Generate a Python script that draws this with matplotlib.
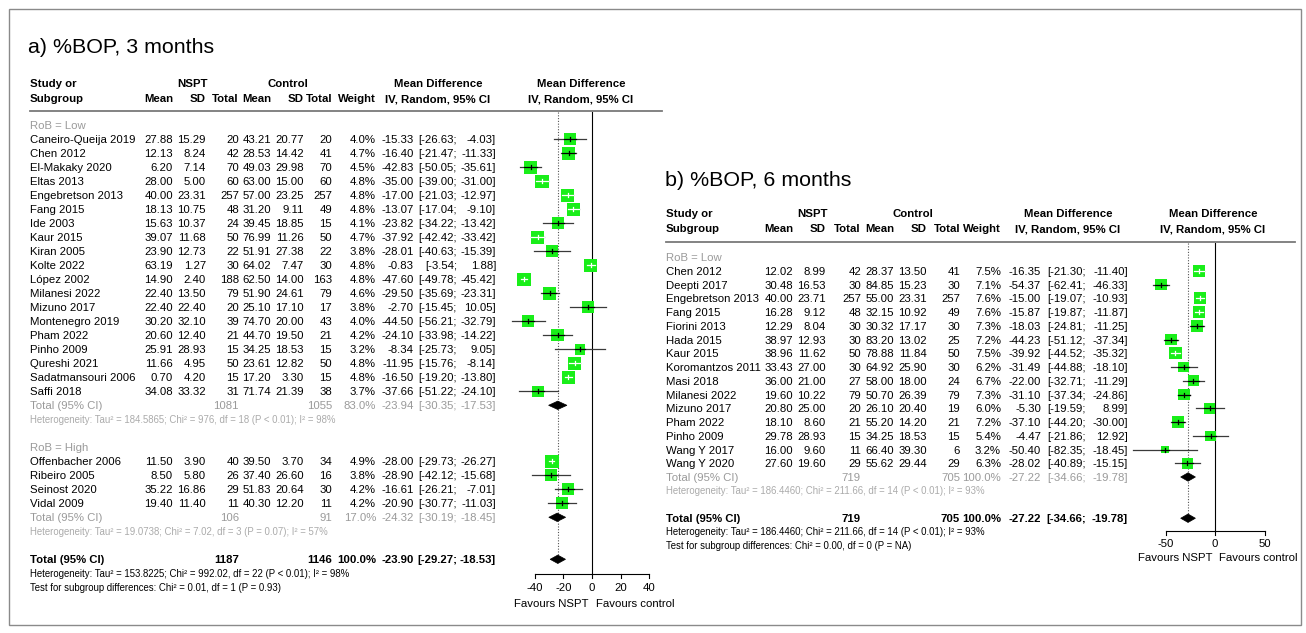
import matplotlib
matplotlib.use("Agg")
import math
import matplotlib.pyplot as plt
from matplotlib import transforms
from matplotlib.patches import Rectangle, Polygon
from matplotlib.lines import Line2D

plt.rcParams['font.family'] = ['Liberation Sans', 'DejaVu Sans']

# ===================== DATA: panel a (%BOP, 3 months) =====================
a_low_study = ["Caneiro-Queija 2019", "Chen 2012", "El-Makaky 2020", "Eltas 2013",
               "Engebretson 2013", "Fang 2015", "Ide 2003", "Kaur 2015", "Kiran 2005",
               "Kolte 2022", "López 2002", "Milanesi 2022", "Mizuno 2017",
               "Montenegro 2019", "Pham 2022", "Pinho 2009", "Qureshi 2021",
               "Sadatmansouri 2006", "Saffi 2018"]
a_low_mean_e = [27.88, 12.13, 6.20, 28.00, 40.00, 18.13, 15.63, 39.07, 23.90, 63.19,
                14.90, 22.40, 22.40, 30.20, 20.60, 25.91, 11.66, 0.70, 34.08]
a_low_sd_e = [15.29, 8.24, 7.14, 5.00, 23.31, 10.75, 10.37, 11.68, 12.73, 1.27,
              2.40, 13.50, 22.40, 32.10, 12.40, 28.93, 4.95, 4.20, 33.32]
a_low_n_e = [20, 42, 70, 60, 257, 48, 24, 50, 22, 30, 188, 79, 20, 39, 21, 15, 50, 15, 31]
a_low_mean_c = [43.21, 28.53, 49.03, 63.00, 57.00, 31.20, 39.45, 76.99, 51.91, 64.02,
                62.50, 51.90, 25.10, 74.70, 44.70, 34.25, 23.61, 17.20, 71.74]
a_low_sd_c = [20.77, 14.42, 29.98, 15.00, 23.25, 9.11, 18.85, 11.26, 27.38, 7.47,
              14.00, 24.61, 17.10, 20.00, 19.50, 18.53, 12.82, 3.30, 21.39]
a_low_n_c = [20, 41, 70, 60, 257, 49, 15, 50, 22, 30, 163, 79, 17, 43, 21, 15, 50, 15, 38]
a_low_weight = [4.0, 4.7, 4.5, 4.8, 4.8, 4.8, 4.1, 4.7, 3.8, 4.8, 4.8, 4.6, 3.8, 4.0,
                4.2, 3.2, 4.8, 4.8, 3.7]
a_low_md = [-15.33, -16.40, -42.83, -35.00, -17.00, -13.07, -23.82, -37.92, -28.01, -0.83,
            -47.60, -29.50, -2.70, -44.50, -24.10, -8.34, -11.95, -16.50, -37.66]
a_low_lo = [-26.63, -21.47, -50.05, -39.00, -21.03, -17.04, -34.22, -42.42, -40.63, -3.54,
            -49.78, -35.69, -15.45, -56.21, -33.98, -25.73, -15.76, -19.20, -51.22]
a_low_hi = [-4.03, -11.33, -35.61, -31.00, -12.97, -9.10, -13.42, -33.42, -15.39, 1.88,
            -45.42, -23.31, 10.05, -32.79, -14.22, 9.05, -8.14, -13.80, -24.10]
a_low_total_n = [1081, 1055]
a_low_total_w = 83.0
a_low_total_md = [-23.94, -30.35, -17.53]
a_low_het = "Heterogeneity: Tau² = 184.5865; Chi² = 976, df = 18 (P < 0.01); I² = 98%"

a_high_study = ["Offenbacher 2006", "Ribeiro 2005", "Seinost 2020", "Vidal 2009"]
a_high_mean_e = [11.50, 8.50, 35.22, 19.40]
a_high_sd_e = [3.90, 5.80, 16.86, 11.40]
a_high_n_e = [40, 26, 29, 11]
a_high_mean_c = [39.50, 37.40, 51.83, 40.30]
a_high_sd_c = [3.70, 26.60, 20.64, 12.20]
a_high_n_c = [34, 16, 30, 11]
a_high_weight = [4.9, 3.8, 4.2, 4.2]
a_high_md = [-28.00, -28.90, -16.61, -20.90]
a_high_lo = [-29.73, -42.12, -26.21, -30.77]
a_high_hi = [-26.27, -15.68, -7.01, -11.03]
a_high_total_n = [106, 91]
a_high_total_w = 17.0
a_high_total_md = [-24.32, -30.19, -18.45]
a_high_het = "Heterogeneity: Tau² = 19.0738; Chi² = 7.02, df = 3 (P = 0.07); I² = 57%"

a_all_total_n = [1187, 1146]
a_all_total_w = 100.0
a_all_total_md = [-23.90, -29.27, -18.53]
a_all_het = "Heterogeneity: Tau² = 153.8225; Chi² = 992.02, df = 22 (P < 0.01); I² = 98%"
a_test = "Test for subgroup differences: Chi² = 0.01, df = 1 (P = 0.93)"
a_ticks = [-40, -20, 0, 20, 40]

# ===================== DATA: panel b (%BOP, 6 months) =====================
b_low_study = ["Chen 2012", "Deepti 2017", "Engebretson 2013", "Fang 2015", "Fiorini 2013",
               "Hada 2015", "Kaur 2015", "Koromantzos 2011", "Masi 2018", "Milanesi 2022",
               "Mizuno 2017", "Pham 2022", "Pinho 2009", "Wang Y 2017", "Wang Y 2020"]
b_low_mean_e = [12.02, 30.48, 40.00, 16.28, 12.29, 38.97, 38.96, 33.43, 36.00, 19.60,
                20.80, 18.10, 29.78, 16.00, 27.60]
b_low_sd_e = [8.99, 16.53, 23.71, 9.12, 8.04, 12.93, 11.62, 27.00, 21.00, 10.22,
              25.00, 8.60, 28.93, 9.60, 19.60]
b_low_n_e = [42, 30, 257, 48, 30, 30, 50, 30, 27, 79, 20, 21, 15, 11, 29]
b_low_mean_c = [28.37, 84.85, 55.00, 32.15, 30.32, 83.20, 78.88, 64.92, 58.00, 50.70,
                26.10, 55.20, 34.25, 66.40, 55.62]
b_low_sd_c = [13.50, 15.23, 23.31, 10.92, 17.17, 13.02, 11.84, 25.90, 18.00, 26.39,
              20.40, 14.20, 18.53, 39.30, 29.44]
b_low_n_c = [41, 30, 257, 49, 30, 25, 50, 30, 24, 79, 19, 21, 15, 6, 29]
b_low_weight = [7.5, 7.1, 7.6, 7.6, 7.3, 7.2, 7.5, 6.2, 6.7, 7.3, 6.0, 7.2, 5.4, 3.2, 6.3]
b_low_md = [-16.35, -54.37, -15.00, -15.87, -18.03, -44.23, -39.92, -31.49, -22.00, -31.10,
            -5.30, -37.10, -4.47, -50.40, -28.02]
b_low_lo = [-21.30, -62.41, -19.07, -19.87, -24.81, -51.12, -44.52, -44.88, -32.71, -37.34,
            -19.59, -44.20, -21.86, -82.35, -40.89]
b_low_hi = [-11.40, -46.33, -10.93, -11.87, -11.25, -37.34, -35.32, -18.10, -11.29, -24.86,
            8.99, -30.00, 12.92, -18.45, -15.15]
b_low_total_n = [719, 705]
b_low_total_w = 100.0
b_low_total_md = [-27.22, -34.66, -19.78]
b_low_het = "Heterogeneity: Tau² = 186.4460; Chi² = 211.66, df = 14 (P < 0.01); I² = 93%"
b_all_total_n = [719, 705]
b_all_total_w = 100.0
b_all_total_md = [-27.22, -34.66, -19.78]
b_all_het = "Heterogeneity: Tau² = 186.4460; Chi² = 211.66, df = 14 (P < 0.01); I² = 93%"
b_test = "Test for subgroup differences: Chi² = 0.00, df = 0 (P = NA)"
b_ticks = [-50, 0, 50]

# ===================== LAYOUT =====================
W, H = 1306, 633
fig = plt.figure(figsize=(W / 100, H / 100), dpi=100)
PX = transforms.Affine2D().scale(1.0 / W, -1.0 / H).translate(0, 1) + fig.transFigure

FS = 8.2
FS_HET = 6.9
GREY = '#9a9a9a'
GREY_HET = '#ababab'
GREEN = '#19ee19'


def txt(x, y, s, ha='left', fs=FS, **kw):
    fig.text(x, y + fs * 0.49, s, transform=PX, ha=ha, va='baseline', fontsize=fs, **kw)


def hline(x0, x1, y, **kw):
    fig.add_artist(Line2D([x0, x1], [y, y], transform=PX, **kw))


LA = dict(title="a) %BOP, 3 months", title_x=28, title_y=45,
          name_x=30, cols=[173, 206, 239, 271, 304, 332, 376], md_r=[414, 457, 496],
          nspt_c=192, ctrl_c=288, mdh_c=438, plot_c=581,
          hy1=83, hy2=98, rule_y=111, rule_x1=662,
          y0=125.3, pitch=14.0,
          x0=592, ppu=1.43, ax_l=500, ax_r=690,
          axis_y=574, tick_y=587, fav_y=603, fav_l=-3, fav_r=4, sq_k=6.0, dia_h=4.2)

LB = dict(title="b) %BOP, 6 months", title_x=665, title_y=178,
          name_x=666, cols=[793, 826, 861, 894, 927, 960, 1001], md_r=[1041, 1086, 1128],
          nspt_c=813, ctrl_c=913, mdh_c=1068, plot_c=1213,
          hy1=213, hy2=228, rule_y=242, rule_x1=1295,
          y0=257, pitch=13.75,
          x0=1215, ppu=0.99, ax_l=1130, ax_r=1300,
          axis_y=531, tick_y=543, fav_y=557, fav_l=-3, fav_r=4, sq_k=4.4, dia_h=4.2)


def headers(L):
    txt(L['title_x'], L['title_y'], L['title'], fs=15.4)
    b = dict(fontweight='bold')
    txt(L['name_x'], L['hy1'], "Study or", **b)
    txt(L['name_x'], L['hy2'], "Subgroup", **b)
    txt(L['nspt_c'], L['hy1'], "NSPT", ha='center', **b)
    txt(L['ctrl_c'], L['hy1'], "Control", ha='center', **b)
    for x, s in zip(L['cols'], ["Mean", "SD", "Total", "Mean", "SD", "Total", "Weight"]):
        txt(x, L['hy2'], s, ha='right', **b)
    txt(L['mdh_c'], L['hy1'], "Mean Difference", ha='center', **b)
    txt(L['mdh_c'], L['hy2'], "IV, Random, 95% CI", ha='center', **b)
    txt(L['plot_c'], L['hy1'], "Mean Difference", ha='center', **b)
    txt(L['plot_c'], L['hy2'], "IV, Random, 95% CI", ha='center', **b)
    hline(L['name_x'], L['rule_x1'], L['rule_y'], color='#7a7a7a', lw=1.3)


def md_text(L, y, md, lo, hi, **kw):
    txt(L['md_r'][0], y, f"{md:.2f}", ha='right', **kw)
    txt(L['md_r'][1], y, f"[{lo:.2f};", ha='right', **kw)
    txt(L['md_r'][2], y, f"{hi:.2f}]", ha='right', **kw)


def forest_axes(L):
    ax = fig.add_axes([L['ax_l'] / W, 0, (L['ax_r'] - L['ax_l']) / W, 1])
    ax.set_xlim((L['ax_l'] - L['x0']) / L['ppu'], (L['ax_r'] - L['x0']) / L['ppu'])
    ax.set_ylim(H, 0)
    ax.axis('off')
    return ax


def study_rows(L, ax, start, names, me, se, ne, mc, sc, nc, w, md, lo, hi):
    for k in range(len(names)):
        y = L['y0'] + (start + k) * L['pitch']
        txt(L['name_x'], y, names[k])
        vals = [f"{me[k]:.2f}", f"{se[k]:.2f}", f"{ne[k]}", f"{mc[k]:.2f}",
                f"{sc[k]:.2f}", f"{nc[k]}", f"{w[k]:.1f}%"]
        for x, s in zip(L['cols'], vals):
            txt(x, y, s, ha='right')
        md_text(L, y, md[k], lo[k], hi[k])
        # forest marks
        half = L['sq_k'] * math.sqrt(w[k]) / 2.0
        hx = half / L['ppu']
        ax.plot([lo[k], hi[k]], [y, y], color='#3a3a3a', lw=0.9, zorder=2)
        ax.add_patch(Rectangle((md[k] - hx, y - half), 2 * hx, 2 * half,
                               facecolor=GREEN, edgecolor='none', zorder=3))
        inside = (md[k] - lo[k]) < hx and (hi[k] - md[k]) < hx
        c_in = 'white' if inside else 'black'
        ax.plot([max(lo[k], md[k] - hx), min(hi[k], md[k] + hx)], [y, y],
                color=c_in, lw=0.9, zorder=4)
        ax.plot([md[k], md[k]], [y - 2.0, y + 2.0], color=c_in, lw=0.9, zorder=4)


def total_row(L, ax, row, n, wt, mdv, color, bold=False, label="Total (95% CI)"):
    y = L['y0'] + row * L['pitch']
    kw = dict(color=color)
    if bold:
        kw['fontweight'] = 'bold'
    txt(L['name_x'], y, label, **kw)
    txt(L['cols'][2], y, f"{n[0]}", ha='right', **kw)
    txt(L['cols'][5], y, f"{n[1]}", ha='right', **kw)
    txt(L['cols'][6], y, f"{wt:.1f}%", ha='right', **kw)
    md_text(L, y, mdv[0], mdv[1], mdv[2], **kw)
    h = L['dia_h']
    ax.add_patch(Polygon([(mdv[1], y), (mdv[0], y - h), (mdv[2], y), (mdv[0], y + h)],
                         closed=True, facecolor='black', edgecolor='black', lw=0.5, zorder=3))
    return y


def axis_part(L, ax, ticks, overall_md, overall_y):
    ax.plot([0, 0], [L['rule_y'] + 1, L['axis_y']], color='black', lw=0.8, zorder=1)
    ax.plot([overall_md, overall_md], [L['rule_y'] + 1, overall_y], color='#555555',
            lw=0.8, ls=(0, (1, 1.5)), zorder=1)
    ax.plot([ticks[0], ticks[-1]], [L['axis_y'], L['axis_y']], color='black', lw=0.8)
    for t in ticks:
        ax.plot([t, t], [L['axis_y'], L['axis_y'] + 4], color='black', lw=0.8)
        ax.text(t, L['tick_y'] + 4, f"{t}", ha='center', va='baseline', fontsize=FS)
    txt(L['x0'] + L['fav_l'], L['fav_y'], "Favours NSPT", ha='right')
    txt(L['x0'] + L['fav_r'], L['fav_y'], "Favours control", ha='left')


# ---------------- panel a ----------------
headers(LA)
axA = forest_axes(LA)
txt(LA['name_x'], LA['y0'], "RoB = Low", color=GREY)
study_rows(LA, axA, 1, a_low_study, a_low_mean_e, a_low_sd_e, a_low_n_e, a_low_mean_c,
           a_low_sd_c, a_low_n_c, a_low_weight, a_low_md, a_low_lo, a_low_hi)
total_row(LA, axA, 20, a_low_total_n, a_low_total_w, a_low_total_md, GREY)
txt(LA['name_x'], LA['y0'] + 21 * LA['pitch'], a_low_het, fs=FS_HET, color=GREY_HET)
txt(LA['name_x'], LA['y0'] + 23 * LA['pitch'], "RoB = High", color=GREY)
study_rows(LA, axA, 24, a_high_study, a_high_mean_e, a_high_sd_e, a_high_n_e, a_high_mean_c,
           a_high_sd_c, a_high_n_c, a_high_weight, a_high_md, a_high_lo, a_high_hi)
total_row(LA, axA, 28, a_high_total_n, a_high_total_w, a_high_total_md, GREY)
txt(LA['name_x'], LA['y0'] + 29 * LA['pitch'], a_high_het, fs=FS_HET, color=GREY_HET)
ya = total_row(LA, axA, 31, a_all_total_n, a_all_total_w, a_all_total_md, 'black', bold=True)
txt(LA['name_x'], LA['y0'] + 32 * LA['pitch'], a_all_het, fs=FS_HET)
txt(LA['name_x'], LA['y0'] + 33 * LA['pitch'], a_test, fs=FS_HET)
axis_part(LA, axA, a_ticks, a_all_total_md[0], ya)

# ---------------- panel b ----------------
headers(LB)
axB = forest_axes(LB)
txt(LB['name_x'], LB['y0'], "RoB = Low", color=GREY)
study_rows(LB, axB, 1, b_low_study, b_low_mean_e, b_low_sd_e, b_low_n_e, b_low_mean_c,
           b_low_sd_c, b_low_n_c, b_low_weight, b_low_md, b_low_lo, b_low_hi)
total_row(LB, axB, 16, b_low_total_n, b_low_total_w, b_low_total_md, GREY)
txt(LB['name_x'], LB['y0'] + 17 * LB['pitch'], b_low_het, fs=FS_HET, color=GREY_HET)
yb = total_row(LB, axB, 19, b_all_total_n, b_all_total_w, b_all_total_md, 'black', bold=True)
txt(LB['name_x'], LB['y0'] + 20 * LB['pitch'], b_all_het, fs=FS_HET)
txt(LB['name_x'], LB['y0'] + 21 * LB['pitch'], b_test, fs=FS_HET)
axis_part(LB, axB, b_ticks, b_all_total_md[0], yb)

# frame
fig.add_artist(Rectangle((8.5, 8.5), 1292, 616, transform=PX, fill=False,
                         edgecolor='#8a8a8a', lw=1.0))

fig.savefig("out.png", dpi=100)
